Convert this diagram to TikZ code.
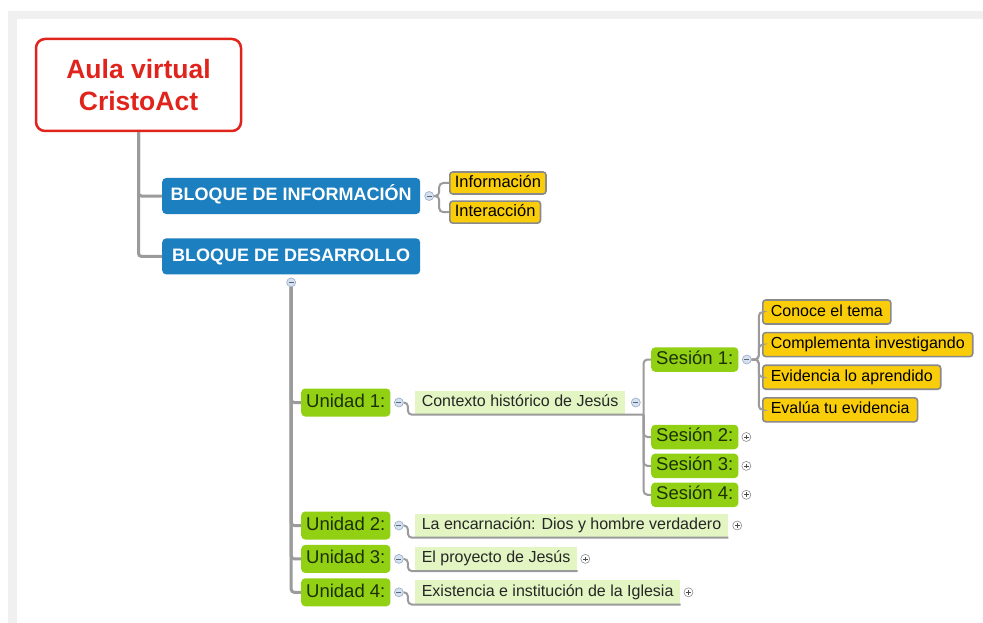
\documentclass[tikz,border=0pt]{standalone}
\usepackage{fontspec}
\setmainfont{Liberation Sans}
\usetikzlibrary{positioning}

\definecolor{bandgrey}{RGB}{240,240,240}
\definecolor{aulared}{RGB}{224,36,28}
\definecolor{bloqueblue}{RGB}{28,127,192}
\definecolor{unidadgreen}{RGB}{146,208,20}
\definecolor{temagreen}{RGB}{226,245,194}
\definecolor{pasoyellow}{RGB}{250,205,10}
\definecolor{pasogrey}{RGB}{138,138,138}
\definecolor{linegrey}{RGB}{155,155,155}
\definecolor{textgreen}{RGB}{28,48,4}
\definecolor{menosfill}{RGB}{214,225,240}
\definecolor{menosdraw}{RGB}{150,170,200}

\tikzset{
  aulabox/.style={draw=aulared, line width=2.5pt, rounded corners=9pt,
    minimum width=205pt, minimum height=92pt, align=center, text=aulared,
    font=\fontsize{26.5}{32}\selectfont\bfseries},
  bloque/.style={fill=bloqueblue, rounded corners=4pt, minimum width=258pt,
    minimum height=36pt, inner ysep=0pt, text=white, text height=13pt, text depth=3.7pt,
    font=\fontsize{18}{20}\selectfont\bfseries},
  dato/.style={draw=pasogrey, fill=pasoyellow, line width=1.6pt, rounded corners=3pt,
    minimum height=22pt, inner xsep=5pt, inner ysep=0pt, text height=11.8pt, text depth=3.5pt,
    font=\fontsize{16.5}{18}\selectfont},
  paso/.style={dato, minimum height=24pt, inner xsep=8pt, font=\fontsize{16}{18}\selectfont},
  unidad/.style={fill=unidadgreen, rounded corners=4pt, minimum height=28pt,
    inner xsep=5pt, inner ysep=0pt, text=textgreen, text height=13.2pt, text depth=3.8pt,
    font=\fontsize{18.5}{20}\selectfont},
  sesion/.style={unidad, minimum height=24.5pt},
  tema/.style={fill=temagreen, minimum height=24pt, inner xsep=7pt, inner ysep=0pt,
    text=black!85, text height=11.5pt, text depth=3.4pt, font=\fontsize{16}{18}\selectfont},
  menos/.style={circle, draw=menosdraw, fill=menosfill, line width=0.6pt,
    minimum size=9pt, inner sep=0pt,
    path picture={\draw[menosdraw!60!black, line width=0.8pt]
      ([xshift=-2.4pt]path picture bounding box.center) --
      ([xshift=2.4pt]path picture bounding box.center);}},
  mas/.style={circle, draw=black!45, fill=white, line width=0.6pt,
    minimum size=9pt, inner sep=0pt,
    path picture={\draw[black!70, line width=0.8pt]
      ([xshift=-2.4pt]path picture bounding box.center) --
      ([xshift=2.4pt]path picture bounding box.center)
      ([yshift=-2.4pt]path picture bounding box.center) --
      ([yshift=2.4pt]path picture bounding box.center);}},
  tronco/.style={draw=linegrey, line width=3pt, rounded corners=3pt},
  rama/.style={draw=linegrey, line width=2pt, rounded corners=4pt},
}

\begin{document}
\begin{tikzpicture}[x=1pt, y=-1pt]
        \useasboundingbox (0,0) rectangle (983,623);
        \fill[bandgrey] (8,11) rectangle (983,623);
        \fill[white] (17,19) rectangle (983,623);

        \node [aulabox] (r) at (138.5,85) {Aula virtual\\CristoAct};
        \node [bloque, anchor=west] (b1) at (162,196) {BLOQUE DE INFORMACIÓN};
        \node [bloque, below=24pt of b1] (b2) {BLOQUE DE DESARROLLO};
        \node [menos, right=4pt of b1] (m1) {};
        \node [dato, anchor=west] (i1) at (449,183) {Información};
        \node [dato, below right=5.5pt and 0pt of i1.south west] (i2) {Interacción};
        \node [menos, below=3pt of b2] (m2) {};

        \node [unidad, anchor=west] (u1) at (301,402.5) {Unidad 1:};
        \node [menos, right=3.5pt of u1] (m3) {};
        \node [tema, right=24pt of u1] (t1) {Contexto histórico de Jesús};
        \node [menos, right=5.5pt of t1] (m4) {};
        \node [sesion, anchor=west] (s1) at (651,359.5) {Sesión 1:};
        \node [menos, right=3.5pt of s1] (m5) {};
        \node [paso, anchor=west] (y1) at (762,312) {Conoce el tema};
        \node [paso, below right=7pt and 0pt of y1.south west] (y2) {Complementa investigando};
        \node [paso, below right=7pt and 0pt of y2.south west] (y3) {Evidencia lo aprendido};
        \node [paso, below right=7pt and 0pt of y3.south west] (y4) {Evalúa tu evidencia};
        \node [sesion, anchor=west] (s2) at (651,437) {Sesión 2:};
        \node [sesion, below right=4pt and 0pt of s2.south west] (s3) {Sesión 3:};
        \node [sesion, below right=4pt and 0pt of s3.south west] (s4) {Sesión 4:};
        \node [mas, right=3pt of s2] (p1) {};
        \node [mas, right=3pt of s3] (p2) {};
        \node [mas, right=3pt of s4] (p3) {};

        \node [unidad, anchor=west] (u2) at (301,525.5) {Unidad 2:};
        \node [unidad, below right=5pt and 0pt of u2.south west] (u3) {Unidad 3:};
        \node [unidad, below right=5pt and 0pt of u3.south west] (u4) {Unidad 4:};
        \node [menos, right=3.5pt of u2] (m6) {};
        \node [menos, right=3.5pt of u3] (m7) {};
        \node [menos, right=3.5pt of u4] (m8) {};
        \node [tema, right=24pt of u2] (t2) {La encarnación: Dios y hombre verdadero};
        \node [tema, right=24pt of u3] (t3) {El proyecto de Jesús};
        \node [tema, right=24pt of u4] (t4) {Existencia e institución de la Iglesia};
        \node [mas, right=4pt of t2] (p4) {};
        \node [mas, right=3pt of t3] (p5) {};
        \node [mas, right=3pt of t4] (p6) {};

        \draw[tronco] (r) |- (b1);
        \draw[tronco] (r) |- (b2);
        \draw[rama] (m1) -- ++(10,0) |- (i1);
        \draw[rama] (m1) -- ++(10,0) |- (i2);
        \foreach \u in {u1,u2,u3,u4}
          \draw[tronco] (m2) |- (\u);
        \draw[rama] (m3) -- ++(9,0) |- (t1.south east) -- ++(18,0) coordinate (k1);
        \foreach \s in {s1,s2,s3,s4}
          \draw[rama] (k1) |- (\s);
        \foreach \y in {y1,y2,y3,y4}
          \draw[rama] (m5) -- ++(12,0) |- (\y);
        \draw[rama] (m6) -- ++(9,0) |- (t2.south east);
        \draw[rama] (m7) -- ++(9,0) |- (t3.south east);
        \draw[rama] (m8) -- ++(9,0) |- (t4.south east);
\end{tikzpicture}
\end{document}
